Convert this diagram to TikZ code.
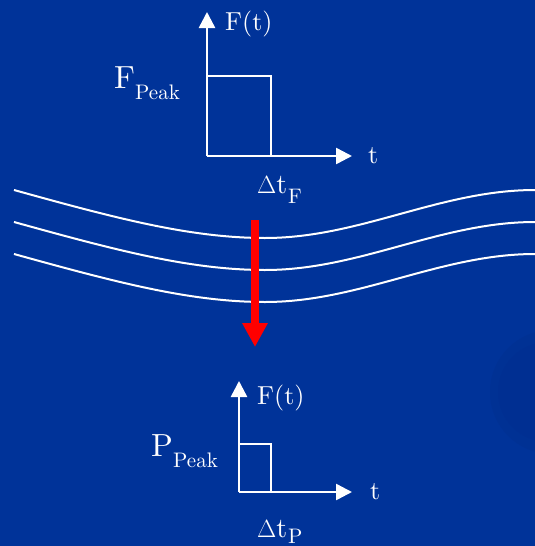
\documentclass[tikz,border=0pt]{standalone}
\usepackage{fontspec}
\setmainfont{lmroman10-regular}[Extension=.otf]
\usetikzlibrary{arrows.meta}
\definecolor{bgblue}{RGB}{0,51,153}
\definecolor{bgdark}{RGB}{0,47,146}
\definecolor{arrowred}{RGB}{255,0,0}
\tikzset{
  axis/.style={draw=white, line width=2.5pt, -{Triangle[width=16pt,length=16pt]}},
  pulse/.style={draw=white, line width=2.5pt},
  wave/.style={draw=white, line width=2pt},
  lbl/.style={text=white, inner sep=0pt, anchor=base west},
  big/.style={lbl, font=\fontsize{32}{32}\selectfont},
  mid/.style={lbl, font=\fontsize{26}{26}\selectfont},
  dlt/.style={lbl, font=\fontsize{28}{28}\selectfont},
  sub/.style={lbl, font=\fontsize{21}{21}\selectfont},
}
\begin{document}
\begin{tikzpicture}[x=1pt,y=-1pt]
\fill[bgblue] (0,0) rectangle (535,546);
\useasboundingbox (0,0) rectangle (535,546);
% faint background circle
\fill[bgblue!97!black] (552,392) circle (62);
\fill[bgdark] (548,392) circle (50);

% top graph
\coordinate (o1) at (207,156);
\coordinate (y1) at (207,12);
\coordinate (x1) at (352,156);
\coordinate (b1a) at (207,76);
\coordinate (b1b) at (271,76);
\coordinate (b1c) at (271,156);
\draw[pulse] (b1a) -- (b1b) -- (b1c);
\draw[axis] (o1) -- (y1);
\draw[axis] (o1) -- (x1);
\node[mid] (ft1) at (225,30) {F(t)};
\node[big] (fp) at (114,88) {F};
\node[sub] (fpk) at (135,99) {Peak};
\node[mid] (t1) at (368,163) {t};
\node[dlt] (dt1) at (257,193) {$\Delta$t};
\node[sub] (dtf) at (288,203) {F};

% waves
\draw[wave] (14,190) .. controls (115,218) and (190,238) .. (265,238) .. controls (360,238) and (440,190) .. (535,190);
\draw[wave] (14,222) .. controls (115,250) and (190,270) .. (265,270) .. controls (360,270) and (440,222) .. (535,222);
\draw[wave] (14,254) .. controls (115,282) and (190,302) .. (265,302) .. controls (360,302) and (440,254) .. (535,254);

% red arrow
\coordinate (ra) at (255,220);
\coordinate (rb) at (255,347);
\draw[arrowred, line width=8pt, -{Triangle[width=24pt,length=24pt]}] (ra) -- (rb);

% bottom graph
\coordinate (o2) at (239,492);
\coordinate (y2) at (239,381);
\coordinate (x2) at (352,492);
\coordinate (b2a) at (239,444);
\coordinate (b2b) at (271,444);
\coordinate (b2c) at (271,492);
\draw[pulse] (b2a) -- (b2b) -- (b2c);
\draw[axis] (o2) -- (y2);
\draw[axis] (o2) -- (x2);
\node[mid] (ft2) at (257,404) {F(t)};
\node[big] (pp) at (151,456) {P};
\node[sub] (ppk) at (173,467) {Peak};
\node[mid] (t2) at (370,499) {t};
\node[dlt] (dt2) at (257,537) {$\Delta$t};
\node[sub] (dtp) at (288,543) {P};
\end{tikzpicture}
\end{document}
